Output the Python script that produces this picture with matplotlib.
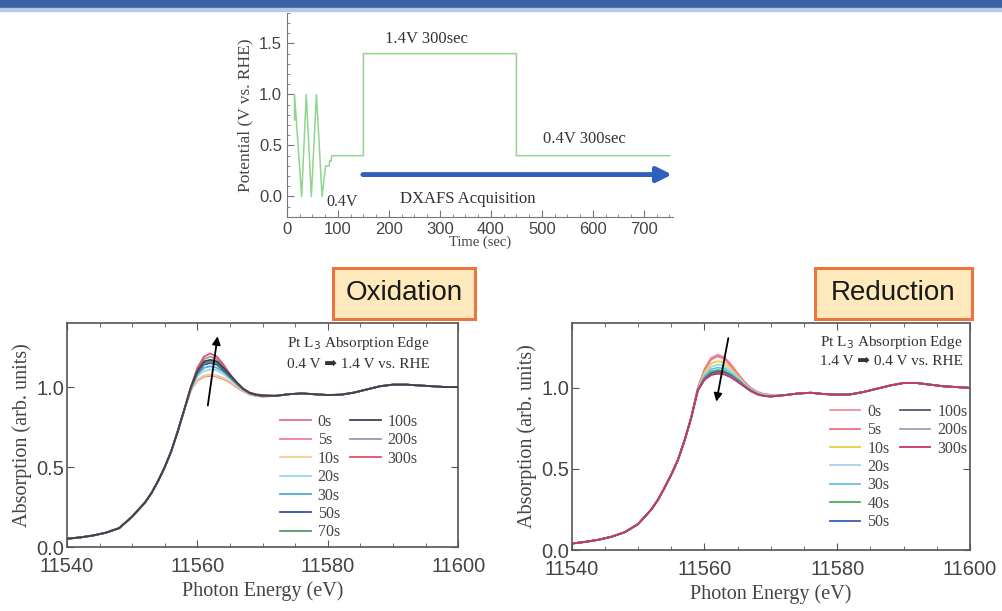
import numpy as np
import matplotlib
matplotlib.use('Agg')
import matplotlib.pyplot as plt
from matplotlib.patches import Rectangle, FancyBboxPatch

# potential program (top panel)
t_sec = [15, 15, 29, 38, 48, 58, 69, 76, 83, 84, 87, 88, 150, 150, 450, 450, 750]
pot_v = [0.75, 1.0, 0.0, 1.0, 0.0, 1.0, 0.0, 0.3, 0.3, 0.35, 0.35, 0.4, 0.4, 1.4, 1.4, 0.4, 0.4]

# photon energy grid
e_edge = [11540, 11542, 11544, 11546, 11548, 11550, 11552, 11553, 11554, 11555, 11556, 11557, 11558]
e_peak = [11559, 11560, 11561, 11562, 11563, 11564, 11565, 11566, 11567, 11568, 11569, 11570]
e_tail = [11572, 11574, 11576, 11578, 11580, 11582, 11584, 11586, 11588, 11590, 11592, 11594, 11596, 11598, 11600]

# oxidation (0.4 V -> 1.4 V)
ox_labels = ['0s', '5s', '10s', '20s', '30s', '50s', '70s', '100s', '200s', '300s']
ox_colors = ['#e07090', '#f0809a', '#f2d08a', '#9ad8e8', '#55aad6', '#34509a', '#4e9a66', '#3c4250', '#a494ae', '#e05070']
ox_edge = [0.052, 0.060, 0.072, 0.090, 0.118, 0.190, 0.280, 0.340, 0.415, 0.500, 0.600, 0.725, 0.860]
ox_peak = [
    [0.980, 1.040, 1.065, 1.070, 1.065, 1.050, 1.030, 1.000, 0.975, 0.955, 0.945, 0.940],
    [0.980, 1.045, 1.070, 1.075, 1.070, 1.055, 1.030, 1.000, 0.975, 0.955, 0.945, 0.940],
    [0.980, 1.045, 1.070, 1.075, 1.070, 1.055, 1.035, 1.005, 0.978, 0.957, 0.946, 0.941],
    [0.990, 1.070, 1.100, 1.110, 1.105, 1.080, 1.050, 1.015, 0.985, 0.960, 0.948, 0.943],
    [0.990, 1.080, 1.120, 1.130, 1.120, 1.095, 1.060, 1.020, 0.985, 0.962, 0.950, 0.945],
    [0.995, 1.090, 1.140, 1.150, 1.140, 1.105, 1.065, 1.025, 0.988, 0.962, 0.950, 0.945],
    [0.995, 1.095, 1.150, 1.160, 1.150, 1.115, 1.070, 1.028, 0.990, 0.963, 0.951, 0.946],
    [1.000, 1.100, 1.160, 1.170, 1.160, 1.120, 1.075, 1.030, 0.990, 0.964, 0.952, 0.947],
    [1.000, 1.110, 1.175, 1.190, 1.175, 1.130, 1.080, 1.030, 0.990, 0.965, 0.953, 0.948],
    [1.000, 1.120, 1.190, 1.210, 1.190, 1.140, 1.080, 1.030, 0.990, 0.965, 0.955, 0.950],
]
ox_tail = [0.945, 0.955, 0.960, 0.955, 0.950, 0.952, 0.965, 0.985, 1.005, 1.015, 1.015, 1.010, 1.005, 1.000, 1.000]

# reduction (1.4 V -> 0.4 V)
red_labels = ['0s', '5s', '10s', '20s', '30s', '40s', '50s', '100s', '200s', '300s']
red_colors = ['#f08c9c', '#f07088', '#e8d040', '#a6d2ec', '#62c2e2', '#48b060', '#3462b0', '#545872', '#aa9cb2', '#c83462']
red_edge = [0.040, 0.050, 0.063, 0.082, 0.110, 0.160, 0.250, 0.310, 0.385, 0.465, 0.555, 0.675, 0.815]
red_peak = [
    [1.000, 1.115, 1.185, 1.205, 1.190, 1.145, 1.090, 1.040, 1.000, 0.975, 0.962, 0.958],
    [1.000, 1.110, 1.175, 1.195, 1.180, 1.135, 1.085, 1.035, 0.997, 0.972, 0.960, 0.956],
    [0.995, 1.095, 1.150, 1.165, 1.155, 1.120, 1.075, 1.030, 0.993, 0.970, 0.958, 0.955],
    [0.990, 1.080, 1.130, 1.145, 1.135, 1.105, 1.065, 1.025, 0.990, 0.968, 0.956, 0.953],
    [0.990, 1.070, 1.115, 1.125, 1.120, 1.090, 1.055, 1.020, 0.987, 0.965, 0.954, 0.951],
    [0.985, 1.060, 1.100, 1.110, 1.105, 1.080, 1.050, 1.015, 0.984, 0.962, 0.951, 0.948],
    [0.985, 1.055, 1.090, 1.100, 1.095, 1.075, 1.045, 1.012, 0.982, 0.960, 0.950, 0.947],
    [0.985, 1.050, 1.085, 1.095, 1.090, 1.070, 1.040, 1.010, 0.980, 0.960, 0.950, 0.947],
    [0.985, 1.050, 1.080, 1.090, 1.085, 1.068, 1.040, 1.010, 0.980, 0.960, 0.950, 0.947],
    [0.985, 1.050, 1.080, 1.088, 1.083, 1.065, 1.038, 1.008, 0.980, 0.960, 0.950, 0.947],
]
red_tail = [0.955, 0.965, 0.970, 0.962, 0.958, 0.960, 0.975, 0.995, 1.015, 1.030, 1.030, 1.020, 1.010, 1.005, 1.000]

SERIF = ['Liberation Serif', 'DejaVu Serif']
SANS = 'Liberation Sans'
GREY = '#555555'

fig = plt.figure(figsize=(10.03, 6.11), dpi=100)

# blue banner strip at the very top
fig.patches.append(Rectangle((0, 1 - 8 / 611), 1, 8 / 611, transform=fig.transFigure, color='#3c62a6', zorder=0))
fig.patches.append(Rectangle((0, 1 - 11 / 611), 1, 3 / 611, transform=fig.transFigure, color='#b6cbe6', zorder=0))

# ---------- top: potential program ----------
ax0 = fig.add_axes([0.286, 0.645, 0.385, 0.334])
ax0.plot(t_sec, pot_v, color='#8fd48f', lw=1.1)
ax0.set_xlim(0, 757)
ax0.set_ylim(-0.2, 1.8)
ax0.set_xticks(range(0, 701, 100))
ax0.set_yticks([0.0, 0.5, 1.0, 1.5])
ax0.set_xticks(range(0, 751, 25), minor=True)
ax0.set_yticks(np.arange(-0.2, 1.81, 0.1), minor=True)
for s in ['top', 'right']:
    ax0.spines[s].set_visible(False)
for s in ['left', 'bottom']:
    ax0.spines[s].set_color('#777777')
ax0.tick_params(direction='in', which='both', colors='#777777', labelcolor='#444444', labelsize=12)
ax0.tick_params(which='major', length=5)
ax0.tick_params(which='minor', length=2.5)
for lab in ax0.get_xticklabels() + ax0.get_yticklabels():
    lab.set_family(SANS)
ax0.set_xlabel('Time (sec)', family=SERIF, fontsize=10.5, color='#444444', labelpad=-1)
ax0.set_ylabel('Potential (V vs. RHE)', family=SERIF, fontsize=12.5, color='#444444', labelpad=4)
ax0.text(192, 1.54, '1.4V 300sec', family=SERIF, fontsize=12, color='#333333', va='center')
ax0.text(502, 0.56, '0.4V 300sec', family=SERIF, fontsize=12, color='#333333', va='center')
ax0.text(78, -0.05, '0.4V', family=SERIF, fontsize=11.5, color='#333333', va='center')
ax0.text(222, -0.02, 'DXAFS Acquisition', family=SERIF, fontsize=12, color='#333333', va='center')
ax0.annotate('', xy=(755, 0.215), xytext=(149, 0.215),
             arrowprops=dict(arrowstyle='-|>', lw=3.5, color='#2f5fbf', mutation_scale=22, shrinkA=0, shrinkB=0))


def spectra_panel(rect, labels, colors, edge, peak, tail, top_order, legend_x, legend_top):
    ax = fig.add_axes(rect)
    energy = e_edge + e_peak + e_tail
    handles = []
    for i, lab in enumerate(labels):
        y = edge + peak[i] + tail
        z = 3 if lab == top_order else 2
        h, = ax.plot(energy, y, color=colors[i], lw=1.3, label=lab, zorder=z)
        handles.append(h)
    ax.set_xlim(11540, 11600)
    ax.set_ylim(0, 1.4)
    ax.set_xticks([11540, 11560, 11580, 11600])
    ax.set_xticks(range(11540, 11601, 5), minor=True)
    ax.set_yticks([0.0, 0.5, 1.0])
    for s in ax.spines.values():
        s.set_color(GREY)
        s.set_linewidth(1.2)
    ax.tick_params(direction='in', which='both', top=True, right=True, colors=GREY,
                   labelcolor='#444444', labelsize=14.5)
    ax.tick_params(which='major', length=5, pad=2)
    ax.tick_params(axis='x', which='major', pad=7)
    ax.tick_params(which='minor', length=3)
    for lab in ax.get_xticklabels():
        lab.set_family(SANS)
    for lab in ax.get_yticklabels():
        lab.set_family(SANS)
        lab.set_va('center_baseline')
    ax.set_xlabel('Photon Energy (eV)', family=SERIF, fontsize=14.5, color='#444444', labelpad=4)
    ax.set_ylabel('Absorption (arb. units)', family=SERIF, fontsize=14.5, color='#444444', labelpad=3)
    kw = dict(frameon=False, prop={'family': SERIF, 'size': 11.5}, handlelength=1.9,
              handletextpad=0.45, labelspacing=0.15, borderpad=0, borderaxespad=0, loc='upper left')
    leg1 = ax.legend(handles[:7], labels[:7], bbox_to_anchor=(legend_x[0], legend_top), **kw)
    for t in leg1.get_texts():
        t.set_color('#444444')
    ax.add_artist(leg1)
    leg2 = ax.legend(handles[7:], labels[7:], bbox_to_anchor=(legend_x[1], legend_top), **kw)
    for t in leg2.get_texts():
        t.set_color('#444444')
    return ax


ax1 = spectra_panel([0.0668, 0.1047, 0.390, 0.3666], ox_labels, ox_colors, ox_edge, ox_peak, ox_tail,
                    '100s', (0.545, 0.724), 0.594)
ax1.text(11573.8, 1.275, 'Pt L$_3$ Absorption Edge', family=SERIF, fontsize=11, color='#333333', va='center')
ax1.text(11573.8, 1.14, '0.4 V \u27a1 1.4 V vs. RHE', family=SERIF, fontsize=11, color='#333333', va='center')
ax1.annotate('', xy=(11563.1, 1.317), xytext=(11561.6, 0.885),
             arrowprops=dict(arrowstyle='-|>', lw=1.3, color='black', mutation_scale=12, shrinkA=0, shrinkB=0),
             zorder=5)

ax2 = spectra_panel([0.570, 0.0998, 0.397, 0.3715], red_labels, red_colors, red_edge, red_peak, red_tail,
                    '300s', (0.648, 0.824), 0.644)
ax2.text(11577.4, 1.28, 'Pt L$_3$ Absorption Edge', family=SERIF, fontsize=11, color='#333333', va='center')
ax2.text(11577.4, 1.16, '1.4 V \u27a1 0.4 V vs. RHE', family=SERIF, fontsize=11, color='#333333', va='center')
ax2.annotate('', xy=(11561.8, 0.915), xytext=(11563.6, 1.307),
             arrowprops=dict(arrowstyle='-|>', lw=1.3, color='black', mutation_scale=12, shrinkA=0, shrinkB=0),
             zorder=5)

# title boxes
for x0, x1, txt in [(333, 475, 'Oxidation'), (815, 972, 'Reduction')]:
    box = FancyBboxPatch((x0 / 1003, 1 - 319 / 611), (x1 - x0) / 1003, 51 / 611,
                         boxstyle='square,pad=0', transform=fig.transFigure,
                         facecolor='#fde9bc', edgecolor='#e8763e', lw=2.2)
    fig.patches.append(box)
    fig.text((x0 + x1) / 2 / 1003, 1 - 293 / 611, txt, family=SANS, fontsize=20,
             ha='center', va='center', color='#1a1a1a')

fig.savefig('out.png', dpi=100)
plt.close(fig)
